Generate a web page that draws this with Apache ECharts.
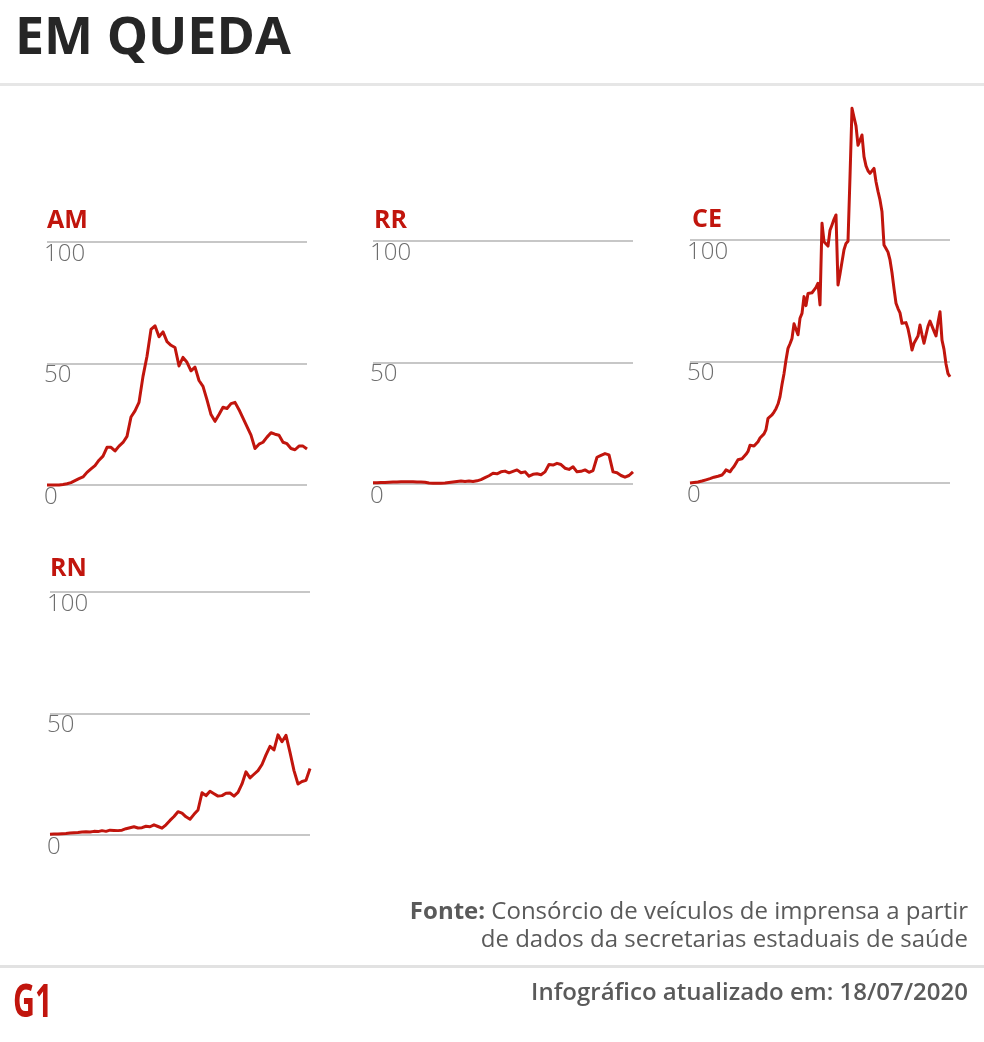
<!DOCTYPE html>
<html>
<head>
<meta charset="utf-8">
<script src="https://cdn.jsdelivr.net/npm/echarts@6/dist/echarts.min.js"></script>
<style>
html,body{margin:0;padding:0;background:#fff;}
#chart{width:984px;height:1042px;}
</style>
</head>
<body>
<div id="chart"></div>
<script>
// ---- Data ----
const stateNames = ['AM', 'RR', 'CE', 'RN'];
const yTicks = [0, 50, 100];

const AM = [0,0,0,0,0.2,0.5,1,1.8,2.6,3.3,5.2,6.6,8,10.2,11.9,15.5,15.5,14,16,17.5,
  20,28,30.5,34,44.7,53,64,65.5,61,63,59,57.5,56.6,49,52.5,50.5,47,48.5,43,40.6,
  35,29,26.2,29,32,31.5,33.5,34,31,27.5,24,20.5,15,16.8,17.6,19.7,21.5,20.9,20.5,17.6,
  17,15,14.5,16,16,14.8];

const RR = [0.5,0.5,0.6,0.6,0.7,0.8,0.8,0.9,0.9,0.9,0.9,0.8,0.8,0.7,0.4,0.3,0.3,0.3,0.4,0.6,
  0.8,1.0,1.2,1.0,1.2,1.0,1.3,1.8,2.6,3.4,4.4,4.2,5,5.3,4.6,5.2,5.8,4.6,5,3.2,
  4,4.2,3.8,5,8,7.8,8.5,8,6.5,6,7.1,5,5.2,5.8,4.8,5.5,11,11.8,12.5,12,
  5,4.6,3.5,2.8,3.5,5];

const CE = [0,0,0.2,0.3,0.4,0.6,0.8,1.1,1.3,1.5,1.8,2.0,2.4,2.6,2.8,3.0,3.3,4.2,5.4,5.2,
  4.6,5.8,6.8,7.4,9.6,9.8,10.0,10.8,11.8,13.0,15.5,16.3,15.2,15.8,17.0,18.5,19.3,20.2,22,26.6,
  27.3,28,29.2,30.6,32.5,35.5,40.5,45,50.6,55.4,57.3,59.5,65.5,66,61,67.8,69.8,76.7,73,78,
  78.5,78.3,79.4,80.5,82.2,73.3,106.9,99.3,99.3,97.5,104,106.2,108.5,110.3,81.5,86,91,96,98.6,99.5,
  126,154.2,150.5,147,139,141,143.2,134.3,130.5,128.5,127.4,127.8,129.5,124,120,116.5,111.6,97.9,96.5,95,
  91.8,86.5,80,74,71.8,70,65.7,66.2,66,63.5,59.5,54.7,57.5,58.1,60.5,65,61,57.5,61,64.5,
  66.6,67.1,62.5,60.5,66,70.5,58.8,55,49,45,43.7];

const RN = [0.3,0.4,0.4,0.5,0.6,0.8,0.9,1.0,1.2,1.3,1.2,1.5,1.4,1.8,1.5,2.0,1.9,1.8,2.0,2.6,
  3.0,3.4,2.9,3.0,3.6,3.4,4.2,3.5,2.8,4.2,6.0,7.6,9.6,9.0,7.5,6.5,8.5,10.3,17.4,16.2,
  18,17,16,16.2,17.2,17.3,16,17.5,21,26,23.5,25,26.5,29,33,36.5,35,41.2,38.4,41,
  34,26.5,21,22,22.5,27.4];

const seriesData = [AM, RR, CE, RN];

// ---- Layout / style ----
const RED = '#c1150d';
const panelPos = [
  {left: 47, top: 242, labelX: 47, labelY: 221},
  {left: 373, top: 241, labelX: 374, labelY: 221},
  {left: 690, top: 240, labelX: 692, labelY: 220},
  {left: 50, top: 592, labelX: 50, labelY: 569}
];
const PW = 260, PH = 243;

const grids = [], xAxes = [], yAxes = [], series = [];
panelPos.forEach((p, i) => {
  grids.push({left: p.left, top: p.top, width: PW, height: PH, containLabel: false});
  xAxes.push({
    type: 'category', gridIndex: i, boundaryGap: false, show: false,
    data: seriesData[i].map((_, k) => k)
  });
  yAxes.push({
    type: 'value', gridIndex: i, min: yTicks[0], max: yTicks[yTicks.length - 1], interval: 50,
    axisLine: {show: false}, axisTick: {show: false},
    splitLine: {show: true, lineStyle: {color: '#b5b5b5', width: 1.5}},
    axisLabel: {
      inside: true, margin: -3, verticalAlign: 'top',
      color: '#6e6e6e', fontSize: 24, fontFamily: 'Open Sans', fontWeight: 300
    }
  });
  series.push({
    type: 'line', xAxisIndex: i, yAxisIndex: i, data: seriesData[i],
    showSymbol: false, clip: false, smooth: false,
    lineStyle: {color: RED, width: 3, join: 'round'}, itemStyle: {color: RED},
    z: 5
  });
});

const graphics = [
  {type: 'text', x: 15, y: 39, style: {text: 'EM QUEDA', font: "bold 52px 'Open Sans'", fill: '#262626', verticalAlign: 'middle'}},
  {type: 'rect', shape: {x: 0, y: 83, width: 984, height: 3}, style: {fill: '#e6e6e6'}},
  {type: 'rect', shape: {x: 0, y: 965, width: 984, height: 3}, style: {fill: '#e2e2e2'}},
  {type: 'text', x: 968, y: 912, style: {
    text: '{b|Fonte:} Consórcio de veículos de imprensa a partir',
    align: 'right', verticalAlign: 'middle', fill: '#5a5a5a',
    font: "24px 'Open Sans'",
    rich: {b: {fontWeight: 'bold', fontSize: 24, fontFamily: 'Open Sans', fill: '#5a5a5a'}}
  }},
  {type: 'text', x: 968, y: 940, style: {
    text: 'de dados da secretarias estaduais de saúde',
    align: 'right', verticalAlign: 'middle', fill: '#5a5a5a', font: "24px 'Open Sans'"
  }},
  {type: 'text', x: 968, y: 993, style: {
    text: 'Infográfico atualizado em: 18/07/2020',
    align: 'right', verticalAlign: 'middle', fill: '#5a5a5a', font: "600 24px 'Open Sans'"
  }},
  {type: 'text', x: 13, y: 1004, scaleX: 0.66, style: {
    text: 'G1', fill: RED, font: "bold 46px 'Open Sans'", verticalAlign: 'middle'
  }}
];
panelPos.forEach((p, i) => {
  graphics.push({type: 'text', x: p.labelX, y: p.labelY, style: {
    text: stateNames[i], fill: RED, font: "bold 25px 'Open Sans'", verticalAlign: 'middle'
  }});
});

const chart = echarts.init(document.getElementById('chart'), null, {renderer: 'canvas'});
chart.setOption({
  animation: false,
  backgroundColor: '#ffffff',
  grid: grids, xAxis: xAxes, yAxis: yAxes, series: series,
  graphic: graphics
});
</script>
</body>
</html>
